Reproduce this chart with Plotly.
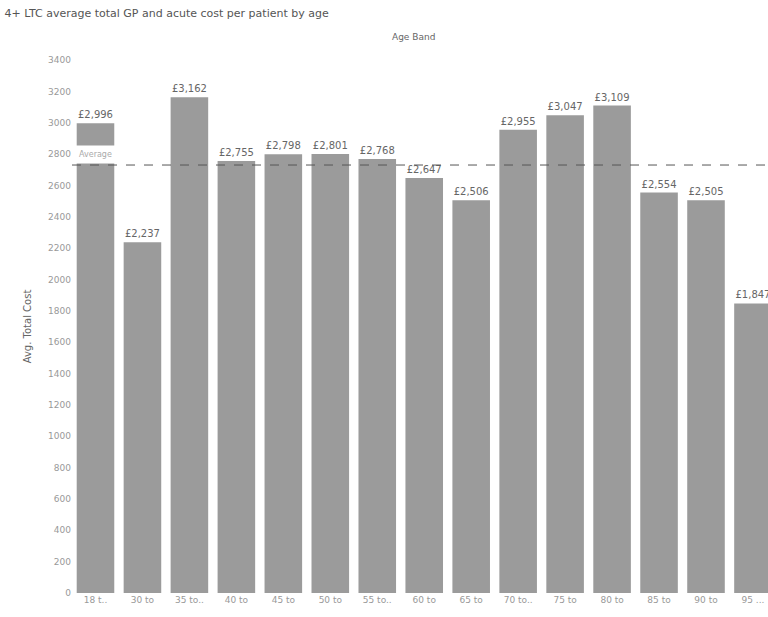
import plotly.graph_objects as go

age_bands = ["18 to 29", "30 to 34", "35 to 39", "40 to 44", "45 to 49", "50 to 54",
             "55 to 59", "60 to 64", "65 to 69", "70 to 74", "75 to 79", "80 to 84",
             "85 to 89", "90 to 94", "95+"]
tick_labels = ["18 t..", "30 to", "35 to..", "40 to", "45 to", "50 to", "55 to..", "60 to",
               "65 to", "70 to..", "75 to", "80 to", "85 to", "90 to", "95 ..."]
avg_cost = [2996, 2237, 3162, 2755, 2798, 2801, 2768, 2647, 2506, 2955, 3047, 3109,
            2554, 2505, 1847]
average_line = 2730
y_ticks = list(range(0, 3401, 200))

bar_text = ["£{:,}".format(v) for v in avg_cost]

fig = go.Figure()
fig.add_trace(go.Bar(
    x=age_bands, y=avg_cost, width=0.8,
    marker=dict(color="#9b9b9b", line=dict(width=0)),
    text=bar_text, textposition="outside", cliponaxis=False,
    textfont=dict(family="DejaVu Sans", size=10, color="#666666"),
))

fig.add_shape(type="line", xref="paper", x0=0, x1=1, yref="y",
              y0=average_line, y1=average_line,
              line=dict(color="#555555", width=1, dash="dash"), layer="above")

fig.add_annotation(x=age_bands[0], y=average_line, yref="y", yanchor="bottom",
                   text="Average", showarrow=False, bgcolor="white",
                   font=dict(family="DejaVu Sans", size=8, color="#aaaaaa"),
                   borderpad=4, yshift=1)

fig.update_layout(
    width=768, height=617,
    margin=dict(l=72, r=0, t=60, b=24),
    paper_bgcolor="white", plot_bgcolor="white",
    showlegend=False,
    font=dict(family="DejaVu Sans", color="#666666"),
    title=dict(text="4+ LTC average total GP and acute cost per patient by age",
               x=0.006, xanchor="left", y=0.985, yanchor="top",
               font=dict(size=11, color="#555555")),
    bargap=0.2,
    xaxis=dict(
        range=[-0.5, 14.32], tickvals=age_bands, ticktext=tick_labels,
        tickfont=dict(size=9, color="#999999"), showgrid=False, zeroline=False,
        showline=False, ticks="",
    ),
    yaxis=dict(
        range=[0, 3400], tickvals=y_ticks, tickfont=dict(size=9, color="#999999"),
        showgrid=False, zeroline=False, showline=False, ticks="",
        title=dict(text="Avg. Total Cost", font=dict(size=10, color="#666666"), standoff=14),
    ),
)

fig.add_annotation(xref="paper", yref="paper", x=0.49, y=1.0, yshift=30,
                   text="Age Band", showarrow=False,
                   font=dict(size=9, color="#666666"))

fig.write_html("out.html")
